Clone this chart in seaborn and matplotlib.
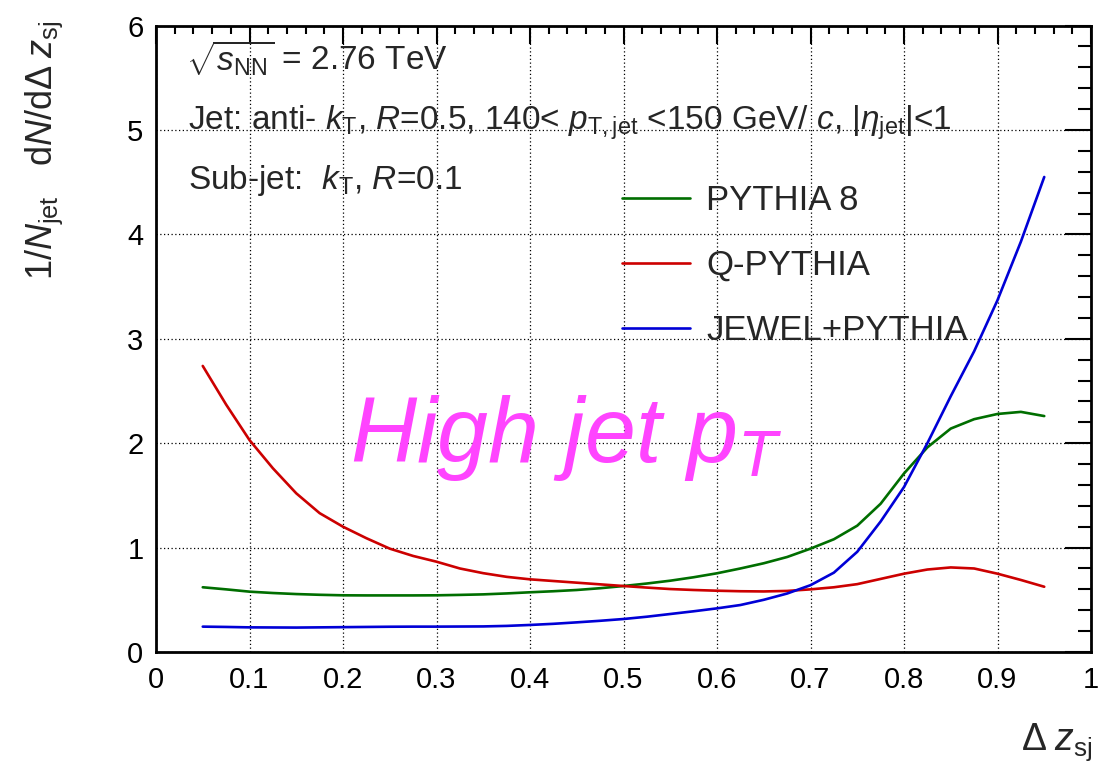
import numpy as np
import pandas as pd
import matplotlib
matplotlib.use("Agg")
import matplotlib.pyplot as plt
from matplotlib.ticker import MultipleLocator, FuncFormatter
from matplotlib.lines import Line2D
import seaborn as sns

# Sub-jet momentum-sharing distributions, 1/N_jet dN/d(dz_sj)
dz = [0.05, 0.075, 0.1, 0.125, 0.15, 0.175, 0.2, 0.225, 0.25, 0.275, 0.3, 0.325,
      0.35, 0.375, 0.4, 0.425, 0.45, 0.475, 0.5, 0.525, 0.55, 0.575, 0.6, 0.625,
      0.65, 0.675, 0.7, 0.725, 0.75, 0.775, 0.8, 0.825, 0.85, 0.875, 0.9, 0.925, 0.95]

pythia8 = [0.62, 0.60, 0.578, 0.565, 0.555, 0.548, 0.543, 0.542, 0.542, 0.542, 0.543, 0.547,
           0.552, 0.561, 0.572, 0.582, 0.594, 0.611, 0.632, 0.656, 0.683, 0.716, 0.754, 0.80,
           0.85, 0.91, 0.99, 1.08, 1.21, 1.42, 1.71, 1.96, 2.14, 2.23, 2.28, 2.30, 2.26]

qpythia = [2.74, 2.37, 2.03, 1.76, 1.52, 1.33, 1.20, 1.09, 0.99, 0.92, 0.865, 0.80,
           0.755, 0.72, 0.696, 0.68, 0.664, 0.648, 0.632, 0.617, 0.603, 0.594, 0.587, 0.582,
           0.58, 0.585, 0.60, 0.62, 0.65, 0.70, 0.75, 0.79, 0.81, 0.80, 0.75, 0.69, 0.625]

jewel = [0.243, 0.240, 0.236, 0.235, 0.234, 0.236, 0.238, 0.240, 0.242, 0.243, 0.243, 0.244,
         0.245, 0.250, 0.259, 0.270, 0.284, 0.299, 0.316, 0.338, 0.364, 0.390, 0.418, 0.45,
         0.50, 0.56, 0.64, 0.76, 0.96, 1.25, 1.58, 2.0, 2.45, 2.88, 3.37, 3.93, 4.55]

models = ["PYTHIA 8", "Q-PYTHIA", "JEWEL+PYTHIA"]
colors = ["#006e00", "#cc0000", "#0000d6"]

x_ticks = [0, 0.1, 0.2, 0.3, 0.4, 0.5, 0.6, 0.7, 0.8, 0.9, 1]
y_ticks = [0, 1, 2, 3, 4, 5, 6]

df = pd.DataFrame({
    "dz": dz * 3,
    "val": pythia8 + qpythia + jewel,
    "model": sum([[m] * len(dz) for m in models], []),
})

sns.set_theme(style="white")
plt.rcParams["font.family"] = ["Liberation Sans", "DejaVu Sans"]
plt.rcParams["mathtext.fontset"] = "custom"
plt.rcParams["mathtext.rm"] = "Liberation Sans"
plt.rcParams["mathtext.it"] = "Liberation Sans:italic"
plt.rcParams["mathtext.bf"] = "Liberation Sans:bold"

W, H = 1105, 766
fig = plt.figure(figsize=(W / 100, H / 100), dpi=100)
ax = fig.add_axes([156 / W, 1 - 652 / H, 935 / W, (652 - 25.6) / H])

sns.lineplot(data=df, x="dz", y="val", hue="model", hue_order=models,
             palette=colors, linewidth=1.9, ax=ax, legend=False, sort=False)

ax.set_xlim(x_ticks[0], x_ticks[-1])
ax.set_ylim(y_ticks[0], y_ticks[-1])
ax.set_xticks(x_ticks)
ax.set_yticks(y_ticks)
ax.xaxis.set_minor_locator(MultipleLocator(0.02))
ax.yaxis.set_minor_locator(MultipleLocator(0.2))
fmt = FuncFormatter(lambda v, p: f"{v:g}")
ax.xaxis.set_major_formatter(fmt)
ax.yaxis.set_major_formatter(fmt)
ax.set_xlabel("")
ax.set_ylabel("")

for s in ax.spines.values():
    s.set_linewidth(2.0)
    s.set_color("black")

ax.tick_params(axis="both", which="both", direction="in", top=True, right=True,
               color="black", labelsize=21, labelcolor="black")
ax.tick_params(axis="x", which="major", length=13, width=1.5, pad=10)
ax.tick_params(axis="x", which="minor", length=6, width=1.5)
ax.tick_params(axis="y", which="major", length=19, width=1.5, pad=9)
ax.tick_params(axis="y", which="minor", length=9.5, width=1.5)

ax.grid(True, which="major", color="black", linestyle=(0, (1, 2)), linewidth=0.9)
ax.set_axisbelow(True)

# Axis titles, ROOT style: aligned to the far ends of the axes
fig.text(24 / W, 1 - 20 / H, r"1/$N_{\rm jet}$   d$N$/d$\Delta\;z_{\rm sj}$",
         rotation=90, ha="left", va="top", fontsize=26)
fig.text(1093 / W, 3 / H, r"$\Delta\;z_{\rm sj}$", ha="right", va="bottom", fontsize=27)

# Collision / jet selection
ax.text(186 / W, 1 - 70 / H, r"$\sqrt{s_{\rm NN}}$ = 2.76 TeV",
        transform=fig.transFigure, fontsize=24, va="baseline")
ax.text(188 / W, 1 - 130 / H,
        r"Jet: anti- $k_{\rm T}$, $R$=0.5, 140< $p_{\rm T,jet}$ <150 GeV/ $c$, |$\eta_{\rm jet}$|<1",
        transform=fig.transFigure, fontsize=24, va="baseline")
ax.text(188 / W, 1 - 189 / H, r"Sub-jet:  $k_{\rm T}$, $R$=0.1",
        transform=fig.transFigure, fontsize=24, va="baseline")

# Legend
handles = [Line2D([], [], color=c, linewidth=1.9) for c in colors]
fig.legend(handles, models, loc="upper left", bbox_to_anchor=(622 / W, 1 - 184 / H),
           frameon=False, fontsize=25, handlelength=1.96, handletextpad=0.46,
           labelspacing=0.92, borderpad=0, borderaxespad=0)

# Annotation
fig.text(350 / W, 1 - 462 / H, r"High jet $p_{T}$", color="#ff44ff", fontsize=66,
         style="italic", va="baseline", ha="left")

fig.savefig("out.png", dpi=100)
